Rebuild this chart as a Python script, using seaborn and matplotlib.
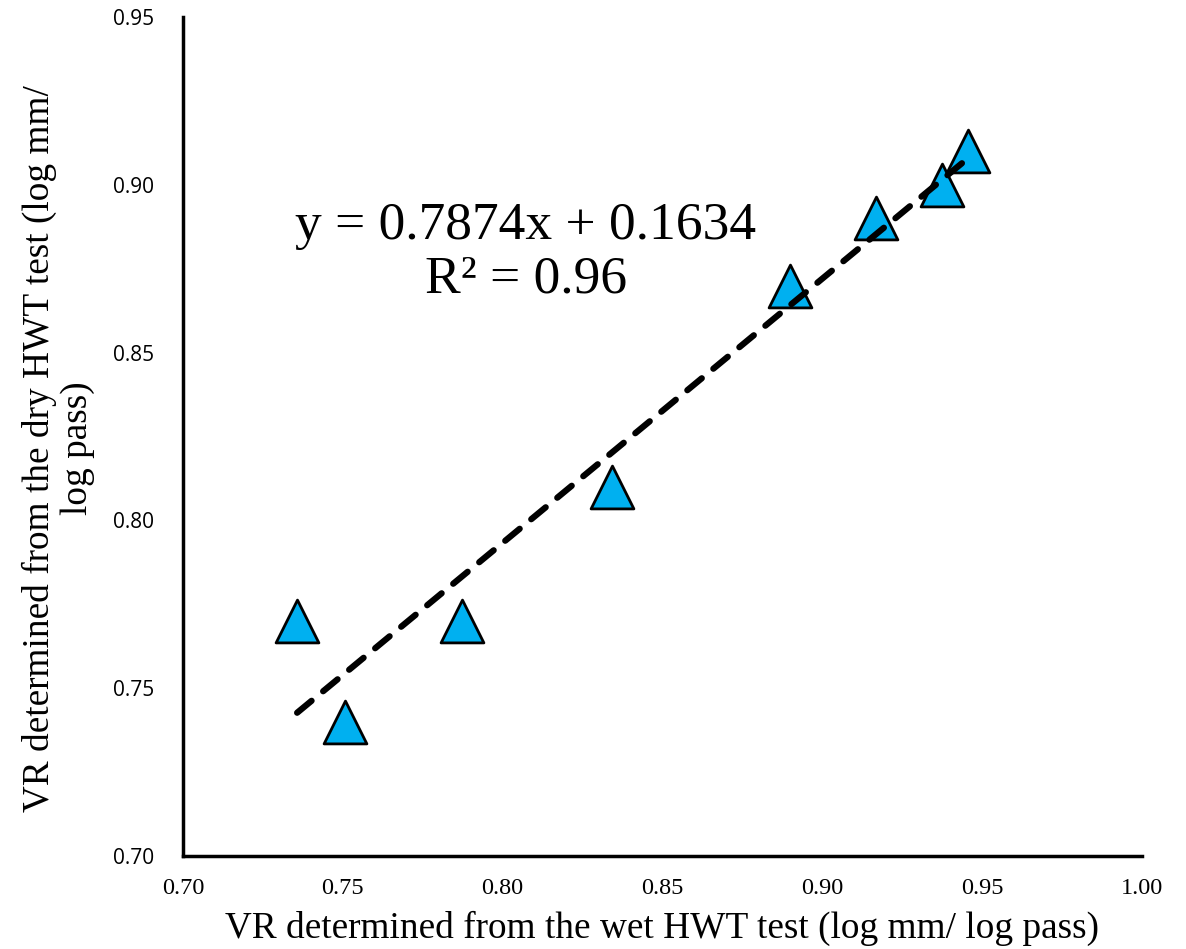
import numpy as np
import pandas as pd
import seaborn as sns
import matplotlib.pyplot as plt

# VR values
vr_wet = [0.7357, 0.7507, 0.7873, 0.8342, 0.8899, 0.9168, 0.9374, 0.9455]
vr_dry = [0.77, 0.74, 0.77, 0.81, 0.87, 0.89, 0.90, 0.91]
slope = 0.7874
intercept = 0.1634
r2 = 0.96
x_ticks = [0.70, 0.75, 0.80, 0.85, 0.90, 0.95, 1.00]
y_ticks = [0.70, 0.75, 0.80, 0.85, 0.90, 0.95]

df = pd.DataFrame({'wet': vr_wet, 'dry': vr_dry})

sns.set_style('white')
plt.rcParams['font.family'] = ['Liberation Serif', 'DejaVu Serif']
plt.rcParams['text.color'] = 'black'
plt.rcParams['axes.labelcolor'] = 'black'
plt.rcParams['xtick.color'] = 'black'
plt.rcParams['ytick.color'] = 'black'

fig = plt.figure(figsize=(11.86, 9.49), dpi=100)
ax = fig.add_axes([0.1543, 0.098, 0.8086, 0.884])

sns.scatterplot(x='wet', y='dry', data=df, marker='^', s=950, color='#00B0F0',
                edgecolor='black', linewidth=2, zorder=2, ax=ax)

# trendline over data range
xs = np.array([min(vr_wet), max(vr_wet)])
ax.plot(xs, slope * xs + intercept, linestyle=(0, (3, 2.4)), color='black',
        linewidth=4.5, solid_capstyle='round', dash_capstyle='round', zorder=3)

ax.text(0.8073, 0.8797, 'y = %.4fx + %.4f\nR² = %.2f' % (slope, intercept, r2),
        fontsize=38.5, ha='center', va='center', linespacing=1.15)

ax.set_xlim(0.70, 1.00)
ax.set_ylim(0.70, 0.95)
ax.set_xticks(x_ticks)
ax.set_yticks(y_ticks)
ax.set_xticklabels(['%.2f' % v for v in x_ticks], fontsize=17.5, family='Liberation Serif')
ax.set_yticklabels(['%.2f' % v for v in y_ticks], fontsize=15, family='Open Sans')
ax.tick_params(direction='in', length=5, width=2.5, color='black')
ax.tick_params(axis='x', pad=16)
ax.tick_params(axis='y', pad=21)

for side in ['top', 'right']:
    ax.spines[side].set_visible(False)
for side in ['left', 'bottom']:
    ax.spines[side].set_linewidth(2.5)
    ax.spines[side].set_color('black')

ax.set_xlabel('VR determined from the wet HWT test (log mm/ log pass)', fontsize=26.8, labelpad=8)
ax.set_ylabel('VR determined from the dry HWT test (log mm/\nlog pass)', fontsize=26.8,
              linespacing=1.1)
ax.yaxis.set_label_coords(-0.092, 0.486)

plt.savefig('out.png', dpi=100)
